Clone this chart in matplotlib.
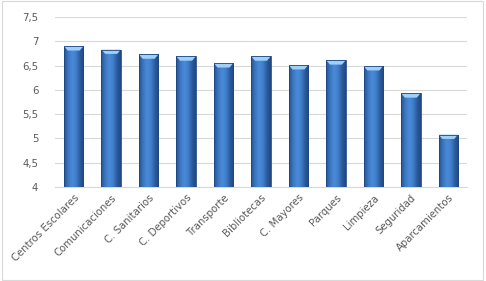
import numpy as np
import matplotlib
matplotlib.use('Agg')
import matplotlib.pyplot as plt
from matplotlib.colors import LinearSegmentedColormap
from matplotlib.patches import Rectangle, Polygon

categories = ['Centros Escolares', 'Comunicaciones', 'C. Sanitarios', 'C. Deportivos',
              'Transporte', 'Bibliotecas', 'C. Mayores', 'Parques', 'Limpieza',
              'Seguridad', 'Aparcamientos']
values = [6.90, 6.83, 6.73, 6.69, 6.55, 6.69, 6.51, 6.61, 6.49, 5.93, 5.08]
yticks = [4, 4.5, 5, 5.5, 6, 6.5, 7, 7.5]
ytick_labels = ['4', '4,5', '5', '5,5', '6', '6,5', '7', '7,5']

text_color = '#595959'
grid_color = '#d9d9d9'
cyl = LinearSegmentedColormap.from_list('cyl', ['#25528f', '#3b76c2', '#4a8ad6', '#4080cc', '#2d5d9f', '#1f4782'])

fig = plt.figure(figsize=(4.86, 2.81), dpi=100)
ax = fig.add_axes([55/486, 1 - 187/281, (467-55)/486, 170/281])

ymin, ymax = 4, 7.5
ax.set_xlim(-0.5, len(categories) - 0.5)
ax.set_ylim(ymin, ymax)

width = 0.52
grad = np.linspace(0, 1, 64).reshape(1, -1)
for i, v in enumerate(values):
    x0, x1 = i - width/2, i + width/2
    im = ax.imshow(grad, cmap=cyl, extent=[x0, x1, ymin, v], aspect='auto',
                   interpolation='bicubic', zorder=3)
    clip = Rectangle((x0, ymin), width, v - ymin, transform=ax.transData)
    im.set_clip_path(clip)
    # light top cap
    cap = 0.09
    ax.add_patch(Polygon([(x0, v), (x1, v), (x1 - 0.1, v - cap), (x0 + 0.1, v - cap)],
                         closed=True, facecolor='#9fd0fa', edgecolor='none', zorder=4))
    ax.add_patch(Rectangle((x0, ymin), width, v - ymin, facecolor='none',
                           edgecolor='#1f4780', linewidth=0.6, zorder=5))

ax.set_yticks(yticks)
ax.set_yticklabels(ytick_labels)
ax.set_xticks(range(len(categories)))
ax.set_xticklabels(categories, rotation=45, ha='right', rotation_mode='anchor')
ax.tick_params(axis='both', length=0, colors=text_color, labelsize=7.3)
ax.tick_params(axis='y', pad=12)
ax.tick_params(axis='x', pad=4)
ax.grid(axis='y', color=grid_color, linewidth=0.8, zorder=0)
ax.set_axisbelow(True)
for s in ['top', 'right', 'left']:
    ax.spines[s].set_visible(False)
ax.spines['bottom'].set_color(grid_color)

fig.patches.append(Rectangle((0.004, 0.005), 0.99, 0.99, transform=fig.transFigure,
                             facecolor='none', edgecolor='#d9d9d9', linewidth=0.8))

fig.savefig('out.png', dpi=100)
